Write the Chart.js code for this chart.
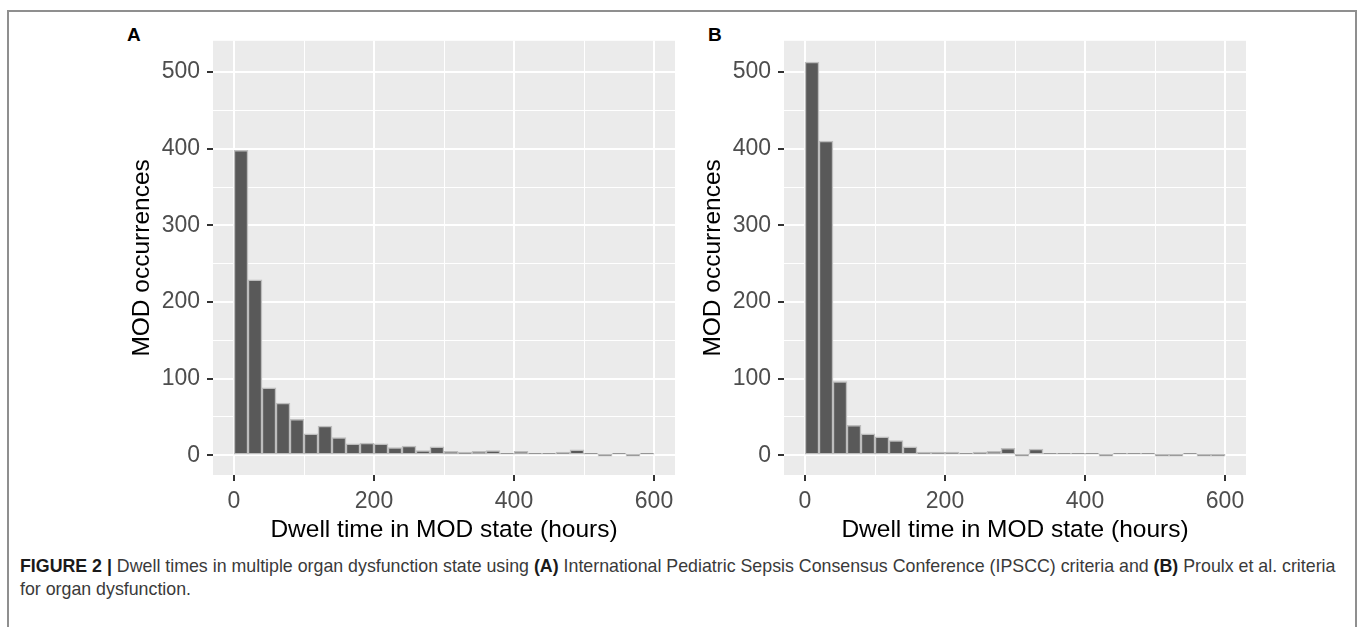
<!DOCTYPE html>
<html>
<head>
    <title>Dwell times in MOD state</title>
    <script src="https://cdn.jsdelivr.net/npm/chart.js"></script>
    <style>
        body { margin: 0; background: #fff; width: 1358px; height: 627px; overflow: hidden; position: relative; font-family: 'Liberation Sans', Arial, sans-serif; }
        #frame { position: absolute; left: 7px; top: 10px; width: 1346px; height: 700px; border: 2px solid #8f8f8f; border-bottom: none; }
        canvas { position: absolute; }
        .letter { position: absolute; font-weight: bold; font-size: 19px; color: #000; }
        #caption { position: absolute; left: 20px; top: 555px; font-family: 'Liberation Sans Narrow', 'Liberation Sans', sans-serif; font-size: 17.8px; line-height: 23px; color: #3a3a3a; white-space: nowrap; }
        #caption b { color: #1a1a1a; }
    </style>
</head>
<body>
    <div id="frame"></div>
    <div class="letter" style="left:127px; top:24px;">A</div>
    <div class="letter" style="left:708px; top:24px;">B</div>
    <canvas id="chartA" width="600" height="530" style="left:100px; top:20px;"></canvas>
    <canvas id="chartB" width="600" height="530" style="left:671px; top:20px;"></canvas>
    <div id="caption"><b>FIGURE 2 |</b> Dwell times in multiple organ dysfunction state using <b>(A)</b> International Pediatric Sepsis Consensus Conference (IPSCC) criteria and <b>(B)</b> Proulx et al. criteria<br>for organ dysfunction.</div>

    <script>
        // bin midpoints (hours), 20 h wide bins
        const binMids = [10, 30, 50, 70, 90, 110, 130, 150, 170, 190, 210, 230, 250, 270, 290,
                         310, 330, 350, 370, 390, 410, 430, 450, 470, 490, 510, 530, 550, 570, 590];
        // counts
        const countsA = [398, 229, 88, 68, 47, 28, 38, 23, 15, 16, 15, 10, 12, 6, 11,
                         5, 4, 5, 6, 1, 5, 1, 1, 4, 7, 2, 0, 2, 0, 2];
        const countsB = [513, 410, 96, 39, 28, 24, 19, 11, 4, 4, 4, 1, 4, 5, 9,
                         0, 8, 2, 1, 2, 2, 0, 1, 1, 1, 0, 0, 2, 0, 0];
        const xTicks = [0, 100, 200, 300, 400, 500, 600];
        const xLabelled = [0, 200, 400, 600];
        const yTicks = [0, 50, 100, 150, 200, 250, 300, 350, 400, 450, 500];
        const yLabelled = [0, 100, 200, 300, 400, 500];
        const xTitle = 'Dwell time in MOD state (hours)';
        const yTitle = 'MOD occurrences';

        // grey ggplot panel behind the grid
        const panelBg = {
            id: 'panelBg',
            beforeDraw(chart) {
                const { ctx, chartArea: a } = chart;
                ctx.save();
                ctx.fillStyle = '#EBEBEB';
                ctx.fillRect(a.left, a.top, a.width, a.height);
                ctx.restore();
            }
        };

        function makeHist(canvasId, counts) {
            const tickFont = { family: 'Liberation Sans', size: 23 };
            const titleFont = { family: 'Liberation Sans', size: 24.5 };
            new Chart(document.getElementById(canvasId), {
                type: 'bar',
                data: {
                    datasets: [{
                        data: binMids.map((x, i) => ({ x: x, y: counts[i] })),
                        backgroundColor: '#595959',
                        borderColor: '#bdbdbd',
                        borderWidth: 1.5,
                        borderSkipped: false,
                        minBarLength: 2,
                        barPercentage: 1,
                        categoryPercentage: 1
                    }]
                },
                options: {
                    responsive: false,
                    animation: false,
                    devicePixelRatio: 1,
                    layout: { padding: { top: 20, right: 25, bottom: 0, left: 0 } },
                    plugins: { legend: { display: false }, tooltip: { enabled: false } },
                    scales: {
                        x: {
                            type: 'linear', min: -30, max: 630, offset: false,
                            afterBuildTicks: s => { s.ticks = xTicks.map(v => ({ value: v })); },
                            afterFit: s => { s.height = 75; },
                            border: { display: false },
                            grid: {
                                offset: false,
                                color: '#ffffff',
                                lineWidth: c => (c.tick && xLabelled.includes(c.tick.value)) ? 2 : 1,
                                drawTicks: true, tickLength: 6, tickWidth: 2,
                                tickColor: c => (c.tick && xLabelled.includes(c.tick.value)) ? '#333333' : 'rgba(0,0,0,0)'
                            },
                            ticks: {
                                autoSkip: false, maxRotation: 0, padding: 7, color: '#4D4D4D', font: tickFont,
                                callback: v => xLabelled.includes(v) ? String(v) : ''
                            },
                            title: { display: true, text: xTitle, color: '#000', font: titleFont, padding: { top: 0, bottom: 5 } }
                        },
                        y: {
                            min: -25.75, max: 540.75,
                            afterBuildTicks: s => { s.ticks = yTicks.map(v => ({ value: v })); },
                            afterFit: s => { s.width = 113; },
                            border: { display: false },
                            grid: {
                                color: '#ffffff',
                                lineWidth: c => (c.tick && yLabelled.includes(c.tick.value)) ? 2 : 1,
                                drawTicks: true, tickLength: 6, tickWidth: 2,
                                tickColor: c => (c.tick && yLabelled.includes(c.tick.value)) ? '#333333' : 'rgba(0,0,0,0)'
                            },
                            ticks: {
                                autoSkip: false, padding: 7, color: '#4D4D4D', font: tickFont,
                                callback: v => yLabelled.includes(v) ? String(v) : ''
                            },
                            title: { display: true, text: yTitle, color: '#000', font: titleFont, padding: { top: 28, bottom: 0 } }
                        }
                    }
                },
                plugins: [panelBg]
            });
        }

        makeHist('chartA', countsA);
        makeHist('chartB', countsB);
    </script>
</body>
</html>
